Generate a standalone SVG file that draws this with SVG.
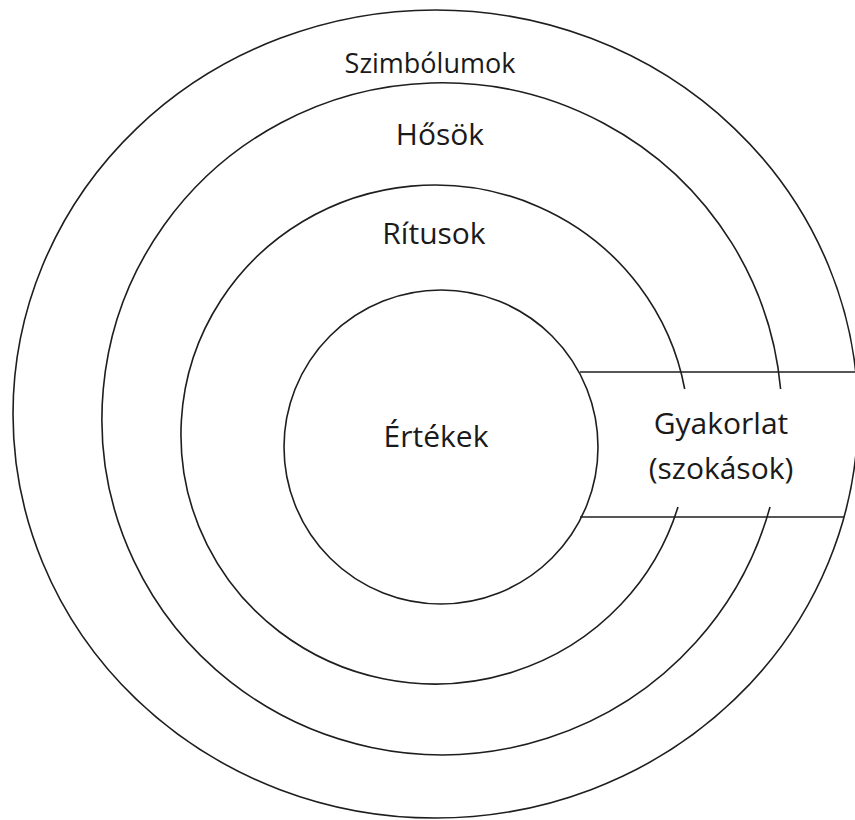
<svg xmlns="http://www.w3.org/2000/svg" width="855" height="820" viewBox="0 0 855 820">
<style>
.ring{fill:none;stroke:#1e1e1e;stroke-width:1.6}
.lbl{font-family:"Open Sans","Noto Sans","DejaVu Sans",sans-serif;font-size:30px;fill:#1a1a1a;text-anchor:middle}
.sm{font-size:27px}
</style>
<rect width="855" height="820" fill="#ffffff"/>
<g id="szimbolumok">
<ellipse class="ring" cx="435.5" cy="414" rx="422.5" ry="404"/>
<text class="lbl sm" x="430" y="73">Szimbólumok</text>
</g>
<g id="hosok">
<path class="ring" d="M780.6,389 A340,336 0 1 0 770,507"/>
<text class="lbl" x="440" y="145">Hősök</text>
</g>
<g id="ritusok">
<path class="ring" d="M684.7,389 A254,249.5 0 1 0 678,507"/>
<text class="lbl" x="434" y="244">Rítusok</text>
</g>
<g id="ertekek">
<circle class="ring" cx="441" cy="447" r="157"/>
<text class="lbl" x="436" y="447">Értékek</text>
</g>
<g id="connectors">
<line class="ring" x1="580" y1="372" x2="855" y2="372"/>
<line class="ring" x1="580" y1="517" x2="844" y2="517"/>
</g>
<g id="gyakorlat">
<text class="lbl" x="721" y="434">Gyakorlat</text>
<text class="lbl" x="721" y="479">(szokások)</text>
</g>
</svg>
